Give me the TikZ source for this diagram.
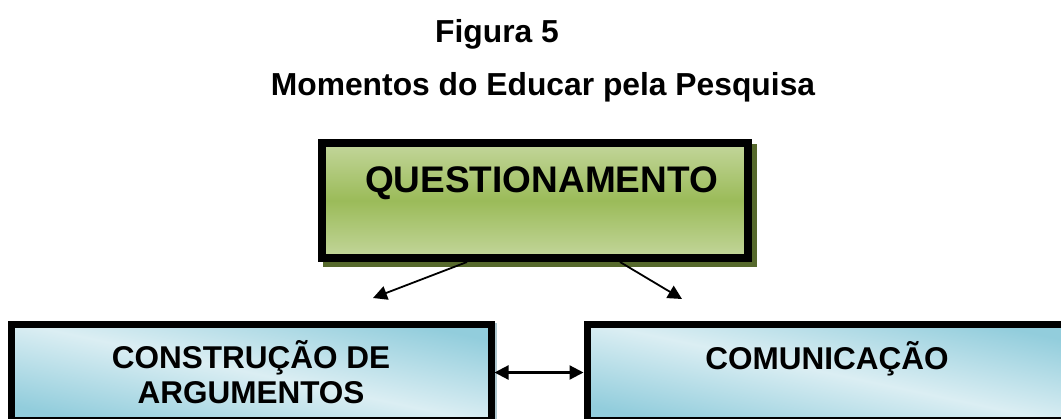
\documentclass[tikz,border=0pt]{standalone}
\usepackage{fontspec}
\setmainfont{Liberation Sans}
\usepackage{tikz}
\usetikzlibrary{arrows.meta, positioning, calc, shadows}

\definecolor{verdeclaro}{HTML}{C3D69B}
\definecolor{verdemedio}{HTML}{9BBB59}
\definecolor{verdesombra}{HTML}{56692C}
\definecolor{azulclaro}{HTML}{DBEEF3}
\definecolor{azulescuro}{HTML}{92CDDC}
\definecolor{azulsombra}{HTML}{AFC8D0}

\begin{document}
\begin{tikzpicture}[x=1pt,y=-1pt,>={Triangle[length=14pt,width=14pt]},
    titulo/.style={font=\fontsize{31.8}{36}\selectfont\bfseries, anchor=base},
    caixaverde/.style={draw, line width=8pt, minimum width=426pt, minimum height=115pt,
        top color=verdeclaro, bottom color=verdeclaro, middle color=verdemedio,
        font=\fontsize{37}{44}\selectfont\bfseries,
        general shadow={draw=verdesombra, fill=verdesombra, line width=8pt, shadow xshift=5pt, shadow yshift=-5pt}},
    caixaazul/.style={draw, line width=7pt, minimum width=480pt, minimum height=96.5pt,
        shading=axis, top color=azulescuro, bottom color=azulescuro, middle color=azulclaro, shading angle=-12,
        align=center, font=\fontsize{31.5}{35}\selectfont\bfseries,
        general shadow={draw=azulsombra, line width=7pt, shadow xshift=2pt, shadow yshift=-2pt}},
    seta/.style={->, line width=1.8pt}]
    \useasboundingbox (0,0) rectangle (1061,418);

    % Titulo
    \node[titulo] (figura) at (497,42) {Figura 5};
    \node[titulo] (momentos) at (543,95) {Momentos do Educar pela Pesquisa};

    % Caixas
    \node[caixaverde, text height=27pt, text depth=44pt] (quest) at (535,200.5) {\hspace*{13pt}QUESTIONAMENTO};
    \node[caixaazul] (constr) at (251,372.5) {CONSTRUÇÃO DE\\ARGUMENTOS};
    \node[caixaazul] (comun) at (827,372.5) {COMUNICAÇÃO\\\mbox{}};

    % Setas
    \coordinate (pontaA) at (373,298);
    \coordinate (pontaB) at (682,299);
    \draw[seta] ([xshift=-68pt]quest.south) -- (pontaA);
    \draw[seta] ([xshift=85pt]quest.south) -- (pontaB);
    \draw[seta, <->, line width=2.2pt] (constr) -- (comun);
\end{tikzpicture}
\end{document}
